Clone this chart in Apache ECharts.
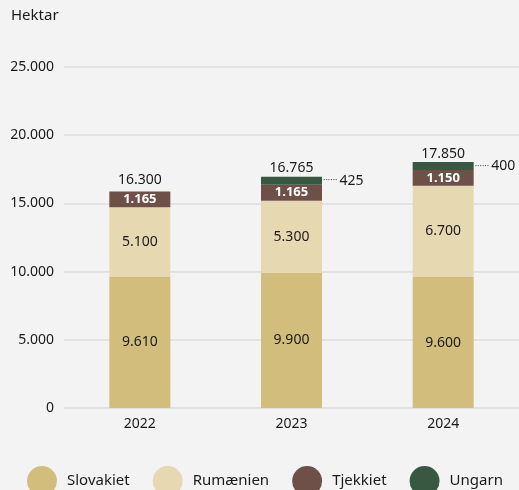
<!DOCTYPE html>
<html>
<head>
<meta charset="utf-8">
<script src="https://cdn.jsdelivr.net/npm/echarts@6/dist/echarts.min.js"></script>
<style>
    html, body { margin: 0; padding: 0; background: #f3f3f3; }
    #chart { width: 519px; height: 490px; }
</style>
</head>
<body>
<div id="chart"></div>
<script>
    // data (hektar)
    var years = ['2022', '2023', '2024'];
    var slovakiet = [9610, 9900, 9600];
    var rumaenien = [5100, 5300, 6700];
    var tjekkiet = [1165, 1165, 1150];
    var ungarn = ['-', 425, 400];
    var totals = [16300, 16765, 17850];
    var names = ['Slovakiet', 'Rumænien', 'Tjekkiet', 'Ungarn'];
    var colors = ['#d2bd7c', '#e6d8b0', '#6f5049', '#385842'];

    var font = 'Noto Sans';

    function fmt (v) {
        return String(v).replace(/\B(?=(\d{3})+(?!\d))/g, '.');
    }

    var chart = echarts.init(document.getElementById('chart'));

    function seg (i, data, label) {
        return {
            name: names[i],
            type: 'bar',
            stack: 'a',
            barWidth: 61,
            data: data,
            itemStyle: { color: colors[i] },
            label: label
        };
    }

    var ungarnSeries = seg(3, ungarn, {
        show: true,
        position: 'right',
        distance: 1,
        formatter: function (p) { return '{d|······}{v|' + fmt(p.value) + '}'; },
        rich: {
            d: { color: '#555', fontSize: 9 },
            v: { color: '#1a1a1a', fontSize: 14, padding: [0, 0, 0, 2] }
        }
    });
    ungarnSeries.barMinHeight = 8;

    chart.setOption({
        backgroundColor: '#f3f3f3',
        animation: false,
        textStyle: { fontFamily: font },
        graphic: [{
            type: 'text',
            left: 11,
            top: 8,
            style: { text: 'Hektar', font: '15px "Noto Sans"', fill: '#1a1a1a' }
        }],
        grid: { left: 64, right: 0, top: 67, bottom: 82 },
        legend: {
            data: names,
            left: 22,
            top: 461,
            icon: 'circle',
            itemWidth: 30,
            itemHeight: 30,
            itemGap: 23,
            textStyle: { fontSize: 15, color: '#1a1a1a', padding: [0, 0, 0, 5] }
        },
        xAxis: {
            type: 'category',
            data: years,
            axisLine: { show: false },
            axisTick: { show: false },
            axisLabel: { color: '#1a1a1a', fontSize: 14, margin: 9 }
        },
        yAxis: {
            type: 'value',
            min: 0,
            max: 25000,
            interval: 5000,
            axisLine: { show: false },
            axisTick: { show: false },
            axisLabel: { color: '#1a1a1a', fontSize: 14, margin: 10, formatter: fmt },
            splitLine: { lineStyle: { color: '#dddddd', width: 1.5 } }
        },
        series: [
            seg(0, slovakiet, { show: true, position: 'inside', color: '#1a1a1a', fontSize: 14, formatter: function (p) { return fmt(p.value); } }),
            seg(1, rumaenien, { show: true, position: 'inside', color: '#1a1a1a', fontSize: 14, formatter: function (p) { return fmt(p.value); } }),
            seg(2, tjekkiet, { show: true, position: 'inside', color: '#fff', fontSize: 13, fontWeight: 'bold', formatter: function (p) { return fmt(p.value); } }),
            ungarnSeries,
            {
                name: 'Total',
                type: 'bar',
                stack: 'a',
                barWidth: 61,
                data: [0, 0, 0],
                itemStyle: { color: 'transparent' },
                label: {
                    show: true,
                    position: 'top',
                    distance: 4,
                    color: '#1a1a1a',
                    fontSize: 14,
                    formatter: function (p) { return fmt(totals[p.dataIndex]); }
                }
            }
        ]
    });
</script>
</body>
</html>
